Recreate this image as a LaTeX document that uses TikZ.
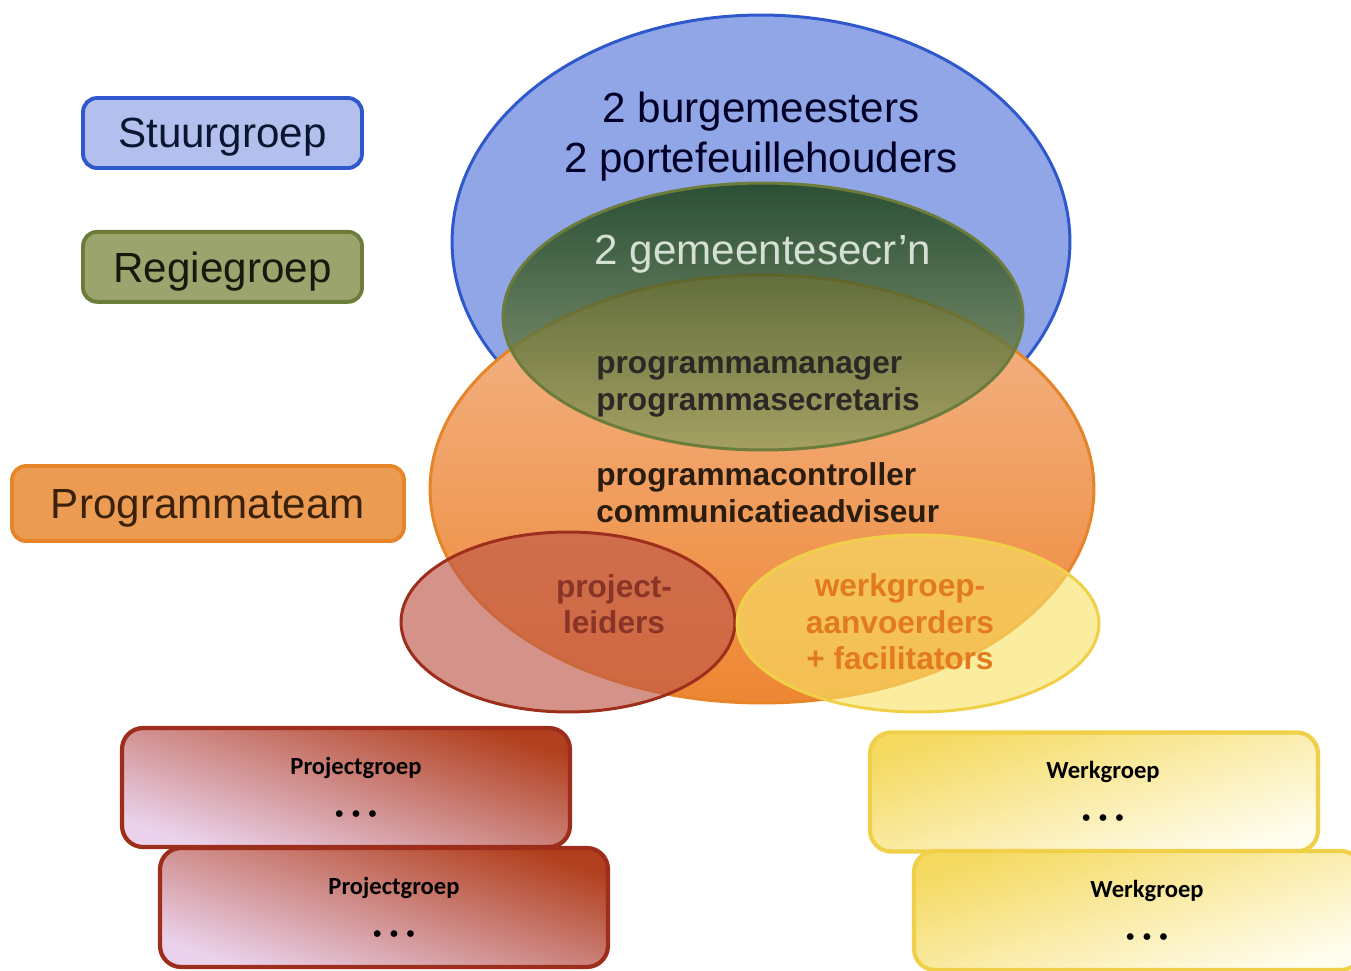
\documentclass[tikz,border=0pt]{standalone}
\usepackage{fontspec}
\setmainfont{Liberation Sans}
\newfontfamily\calibri{Carlito}
\usetikzlibrary{positioning,shapes}

\definecolor{stuurLine}{HTML}{2E58CC}
\definecolor{stuurFill}{HTML}{B3BFEC}
\definecolor{stuurBlob}{HTML}{91A6E6}
\definecolor{regieLine}{HTML}{6C7C3A}
\definecolor{regieFill}{HTML}{9CA46E}
\definecolor{regieTop}{HTML}{123A0A}
\definecolor{regieBottom}{HTML}{93A062}
\definecolor{teamLine}{HTML}{E6842A}
\definecolor{teamFill}{HTML}{EC9B52}
\definecolor{teamTop}{HTML}{F3B68C}
\definecolor{teamBottom}{HTML}{EE8632}
\definecolor{projLine}{HTML}{9E2E1C}
\definecolor{projFill}{HTML}{BE5848}
\definecolor{projText}{HTML}{8A3428}
\definecolor{projDark}{HTML}{B2401E}
\definecolor{projLight}{HTML}{EAD2EC}
\definecolor{werkLine}{HTML}{F0D048}
\definecolor{werkFill}{HTML}{F8E266}
\definecolor{werkText}{HTML}{E27A1E}
\definecolor{werkDark}{HTML}{F5DA62}
\definecolor{werkLight}{HTML}{FFFDEE}

\newcommand{\groupdots}{{\fontsize{9}{9}\selectfont •\hspace{5pt}•\hspace{5pt}•}}

\begin{document}
\begin{tikzpicture}[
		x=0.02cm, y=-0.02cm,
		node distance=1.2cm and 0cm,
		mylegend/.style={draw,rounded corners=8pt,line width=2.2pt,inner sep=0pt,text depth=0pt,
			minimum width=5.58cm,minimum height=1.4cm,font=\fontsize{24}{28}\selectfont},
		myblob/.style={ellipse,draw,line width=1.7pt,inner sep=0pt},
		mytext/.style={align=center,inner sep=0pt,font=\fontsize{24}{28.5}\selectfont},
		myrole/.style={align=left,anchor=west,inner sep=0pt,font=\bfseries\fontsize{18}{21}\selectfont},
		mysub/.style={align=center,inner sep=0pt,font=\bfseries\fontsize{18}{20.8}\selectfont},
		mygroup/.style={draw,rounded corners=12pt,line width=2.4pt,inner sep=0pt,align=center,
			minimum width=8.96cm,minimum height=2.38cm,font=\calibri\bfseries\fontsize{14}{17}\selectfont}
	]
	\useasboundingbox (0,0) rectangle (1351,970);
	\clip (0,0) rectangle (1351,970);

	% legend
	\node[mylegend,draw=stuurLine,fill=stuurFill,text=black!60!stuurLine!60!black] (Stuurgroep) at (222.5,133) {Stuurgroep};
	\node[mylegend,draw=regieLine,fill=regieFill,text=black!80!regieLine,below=of Stuurgroep] (Regiegroep) {Regiegroep};
	\node[mylegend,draw=teamLine,fill=teamFill,text=black!75!teamLine,minimum width=7.84cm,minimum height=1.5cm] (Programmateam) at (208,503.5) {Programmateam};

	% overlapping groups
	\node[myblob,draw=stuurLine,fill=stuurBlob,minimum width=12.36cm,minimum height=9.08cm] (StuurBlob) at (761,242) {};
	\node[myblob,draw=teamLine,top color=teamTop,bottom color=teamBottom,minimum width=13.28cm,minimum height=8.56cm] (TeamBlob) at (762,489) {};
	\node[myblob,draw=regieLine,top color=regieTop,bottom color=regieBottom,fill opacity=0.8,minimum width=10.4cm,minimum height=5.34cm] (RegieBlob) at (763,316.5) {};
	\node[myblob,draw=projLine,fill=projFill,fill opacity=0.65,minimum width=6.68cm,minimum height=3.6cm] (LeiderBlob) at (568,622) {};
	\node[myblob,draw=werkLine,fill=werkFill,fill opacity=0.62,minimum width=7.24cm,minimum height=3.54cm] (WerkBlob) at (918,623.5) {};

	\node[mytext,text=black!85!blue] (Bestuur) at (761,137) {2 burgemeesters\\2 portefeuillehouders};
	\node[mytext,text=green!6!white!88!black] (Secr) at (763,254) {2 gemeentesecr’n};
	\node[myrole,text=black!92!olive] (Manager) at (596,387) {programmamanager\\programmasecretaris};
	\node[myrole,text=black!78!brown] (Controller) at (596,493) {programmacontroller\\communicatieadviseur};
	\node[mysub,text=projText] (Leiders) at (614,604) {project-\\leiders};
	\node[mysub,text=werkText] (Aanvoerders) at (900,622) {werkgroep-\\aanvoerders\\+ facilitators};

	% project and work groups
	\node[mygroup,draw=projLine,top color=projDark,bottom color=projLight,shading angle=-18] (Project1) at (346,787.5) {\hspace*{0.4cm}Projectgroep\\[8pt]\hspace*{0.4cm}\groupdots};
	\node[mygroup,draw=projLine,top color=projDark,bottom color=projLight,shading angle=-18] (Project2) at (384,907.5) {\hspace*{0.4cm}Projectgroep\\[8pt]\hspace*{0.4cm}\groupdots};
	\node[mygroup,draw=werkLine,top color=werkDark,bottom color=werkLight,shading angle=18] (Werk1) at (1094,792) {\hspace*{0.36cm}Werkgroep\\[8pt]\hspace*{0.36cm}\groupdots};
	\node[mygroup,draw=werkLine,top color=werkDark,bottom color=werkLight,shading angle=18] (Werk2) at (1138,910.5) {\hspace*{0.36cm}Werkgroep\\[8pt]\hspace*{0.36cm}\groupdots};
\end{tikzpicture}
\end{document}
